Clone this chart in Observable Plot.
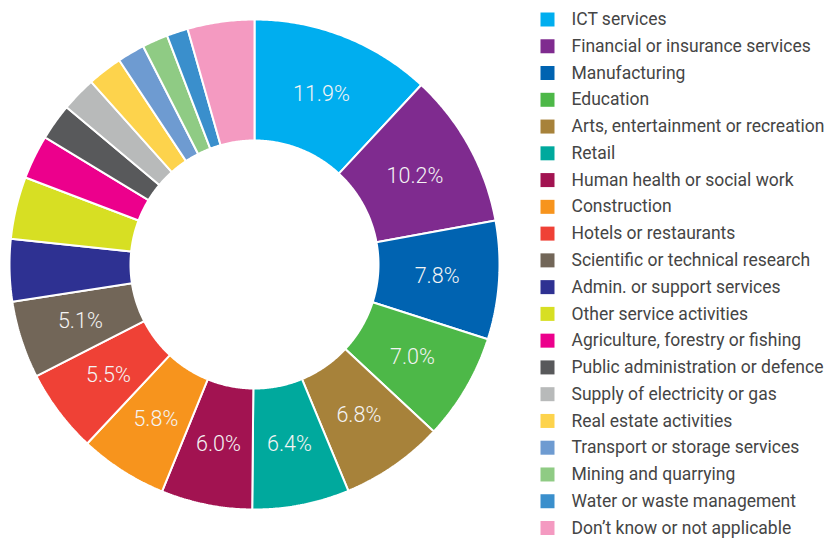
<!DOCTYPE html>
<html>
<head>
<meta charset="utf-8">
<script src="https://cdn.jsdelivr.net/npm/d3@7"></script>
<script src="https://cdn.jsdelivr.net/npm/@observablehq/plot@0.6"></script>
<style>
  html, body { margin: 0; padding: 0; background: #fff; }
  #wrap { display: flex; width: 827px; height: 538px; }
  #wrap svg { display: block; }
</style>
</head>
<body>
<div id="wrap"><div id="donut"></div><div id="legend"></div></div>
<script>
const categories = [
  "ICT services",
  "Financial or insurance services",
  "Manufacturing",
  "Education",
  "Arts, entertainment or recreation",
  "Retail",
  "Human health or social work",
  "Construction",
  "Hotels or restaurants",
  "Scientific or technical research",
  "Admin. or support services",
  "Other service activities",
  "Agriculture, forestry or fishing",
  "Public administration or defence",
  "Supply of electricity or gas",
  "Real estate activities",
  "Transport or storage services",
  "Mining and quarrying",
  "Water or waste management",
  "Don\u2019t know or not applicable"
];
const values = [11.9, 10.2, 7.8, 7.0, 6.8, 6.4, 6.0, 5.8, 5.5, 5.1,
                4.1, 4.1, 2.9, 2.4, 2.3, 2.3, 1.8, 1.7, 1.4, 4.4];
const colors = [
  "#00AEEF", "#7F2B8F", "#0063B1", "#4DB848", "#A7823A",
  "#00A99D", "#A21351", "#F7941D", "#EF4136", "#726658",
  "#2E3192", "#D7DF23", "#EC008C", "#58595B", "#B8BABA",
  "#FDD34C", "#6E9BD1", "#8FCB84", "#3A8FCC", "#F49AC1"
];
const labelMin = 5;          // slices with a value label
const innerRatio = 124 / 245; // hole size relative to outer radius
const labelRatio = 183 / 245;

// Build slice polygons from the values via d3.pie (angles clockwise from 12 o'clock)
const arcs = d3.pie().sort(null).value(d => d)(values);
const polys = [];
arcs.forEach((a, i) => {
  const cat = categories[i];
  const n = Math.max(2, Math.ceil((a.endAngle - a.startAngle) / (Math.PI / 360)));
  const pts = [];
  for (let k = 0; k <= n; k++) {
    const t = a.startAngle + (a.endAngle - a.startAngle) * k / n;
    pts.push({category: cat, x: Math.sin(t), y: Math.cos(t)});
  }
  for (let k = n; k >= 0; k--) {
    const t = a.startAngle + (a.endAngle - a.startAngle) * k / n;
    pts.push({category: cat, x: innerRatio * Math.sin(t), y: innerRatio * Math.cos(t)});
  }
  pts.push({...pts[0]});
  polys.push(...pts);
});
const labels = arcs.map((a, i) => {
  const m = (a.startAngle + a.endAngle) / 2;
  return {category: categories[i], value: values[i],
          x: labelRatio * Math.sin(m), y: labelRatio * Math.cos(m)};
}).filter(d => d.value >= labelMin);

const donut = Plot.plot({
  width: 510,
  height: 538,
  x: {domain: [-1, 1], range: [9, 499], axis: null},
  y: {domain: [-1, 1], range: [509, 19], axis: null},
  color: {domain: categories, range: colors},
  style: {fontFamily: "Roboto, sans-serif", background: "#fff"},
  marks: [
    Plot.line(polys, {x: "x", y: "y", z: "category", fill: "category",
      stroke: "white", strokeWidth: 2, strokeLinejoin: "miter", curve: "linear"}),
    Plot.text(labels, {x: "x", y: "y", text: d => d3.format(".1f")(d.value) + "%",
      fill: "#f4f4f4", fontSize: 21.5, fontWeight: 300})
  ]
});
document.getElementById("donut").appendChild(donut);

const legendRows = categories.map((c, i) => ({category: c, row: i}));
const legend = Plot.plot({
  width: 317,
  height: 538,
  x: {domain: [0, 1], range: [37, 61], axis: null},
  y: {domain: [0, categories.length - 1], range: [19, 527.5], axis: null},
  color: {domain: categories, range: colors},
  style: {fontFamily: "Roboto, sans-serif", background: "#fff"},
  marks: [
    Plot.dot(legendRows, {x: d => 0, y: "row", fill: "category", symbol: "square", r: 7.9}),
    Plot.text(legendRows, {x: d => 1, y: "row", text: "category", textAnchor: "start",
      fill: "#454545", fontSize: 17.5})
  ]
});
document.getElementById("legend").appendChild(legend);
</script>
</body>
</html>
